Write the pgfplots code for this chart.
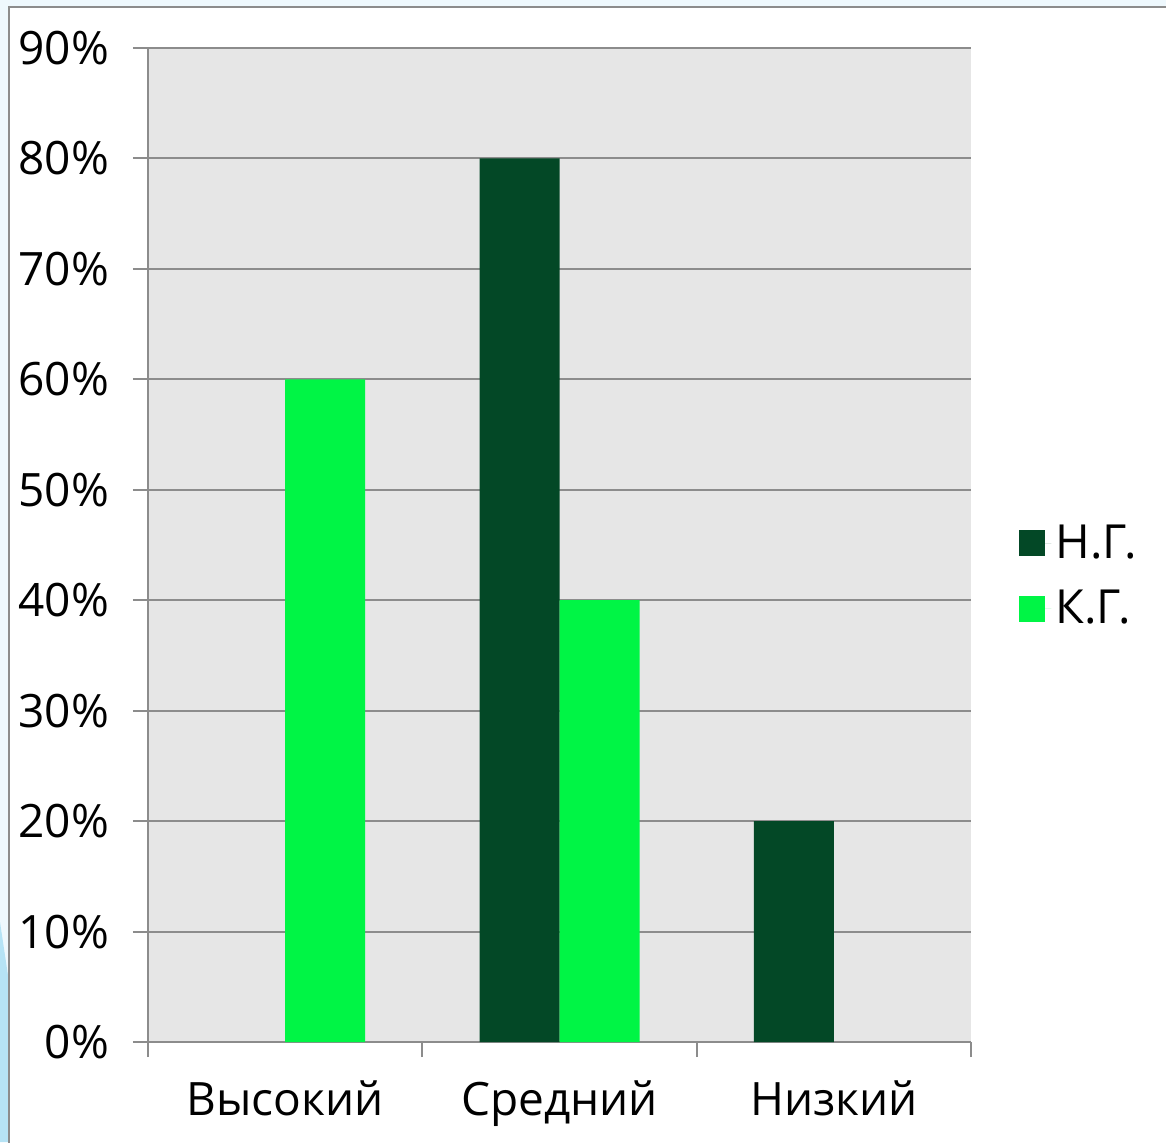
\documentclass[border=0pt]{standalone}
\usepackage{fontspec}
\setmainfont{Open Sans}
\usepackage{pgfplots}
\pgfplotsset{compat=1.18}
\definecolor{ngc}{RGB}{3,72,38}
\definecolor{kgc}{RGB}{0,245,69}
\definecolor{bgg}{RGB}{230,230,230}
\definecolor{gridc}{RGB}{140,140,140}
\definecolor{outerblue}{RGB}{238,248,253}
\definecolor{deco}{RGB}{150,215,240}
\begin{document}
\begin{tikzpicture}[x=1pt,y=1pt]
\useasboundingbox (0,0) rectangle (583,571);
\clip (0,0) rectangle (583,571);
\fill[outerblue] (0,0) rectangle (583,571);
\fill[deco!70] (0,0) -- (4.5,0) -- (4.5,80) -- (0,110) -- cycle;
\fill[white] (4.5,0) rectangle (583,567.5);
\draw[gridc, line width=1pt] (4.5,-2) -- (4.5,567.5) -- (590,567.5);
\begin{axis}[
  at={(74pt,50pt)}, anchor=south west,
  scale only axis, width=411.5pt, height=497pt,
  ymin=0, ymax=90, xmin=-0.5, xmax=2.5,
  ytick={0,10,...,90},
  yticklabel={\pgfmathprintnumber{\tick}\%},
  /pgf/number format/assume math mode=true,
  xtick={-0.5,0.5,1.5,2.5}, xticklabels={},
  extra x ticks={0,1,2},
  extra x tick labels={Высокий,Средний,Низкий},
  extra x tick style={major tick length=0pt, grid=none},
  axis background/.style={fill=bgg},
  ymajorgrids, grid style={gridc, line width=1pt},
  axis x line*=bottom, axis y line*=left,
  axis line style={gridc, line width=1pt, -},
  tick style={gridc, line width=1pt},
  major tick length=7.5pt,
  tick align=outside,
  yticklabel style={font=\fontsize{23}{27}\selectfont, text=black, xshift=-8.5pt},
  xticklabel style={font=\fontsize{23}{27}\selectfont, text=black, yshift=-16pt},
  ybar, bar width=40pt,
  legend style={at={(1.051,0.469)}, anchor=west, draw=none, fill=none,
    font=\fontsize{23.5}{27}\selectfont, row sep=10.5pt,
    legend cell align=left},
  legend image code/.code={\fill[#1,draw=none] (0pt,-6.5pt) rectangle (13pt,6.5pt);
    \path (0pt,0pt) -- (16pt,0pt);},
]
\addplot[fill=ngc, draw=none, bar shift=-20pt] coordinates {(1,80) (2,20)};
\addplot[fill=kgc, draw=none, bar shift=20pt] coordinates {(0,60) (1,40)};
\legend{Н.Г.,К.Г.}
\end{axis}
\end{tikzpicture}
\end{document}
